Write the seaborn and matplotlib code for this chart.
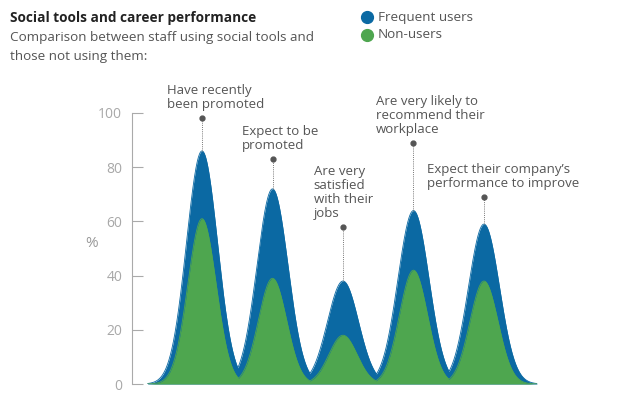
import numpy as np
import pandas as pd
import matplotlib.pyplot as plt
import seaborn as sns

sns.set_style("white")
plt.rcParams['font.family'] = ['Open Sans', 'DejaVu Sans']

# data
categories = ["Have recently\nbeen promoted",
              "Expect to be\npromoted",
              "Are very\nsatisfied\nwith their\njobs",
              "Are very likely to\nrecommend their\nworkplace",
              "Expect their company\u2019s\nperformance to improve"]
frequent = [86, 72, 38, 64, 59]
non_users = [61, 39, 18, 42, 38]
pin_level = [98, 83, 58, 89, 69]
yticks = [0, 20, 40, 60, 80, 100]

# layout (label offsets in points)
label_dx = [-25, -22, -21, -27, -41]
blue = "#0b69a3"
green = "#4ea64f"

x = np.linspace(-0.77, 4.75, 1500)


def peaks(vals, width):
    # one bell per category, valleys where neighbouring bells meet
    return np.max([v * np.exp(-(x - i) ** 2 / (2 * width ** 2)) for i, v in enumerate(vals)], axis=0)


df = pd.concat([
    pd.DataFrame({"x": x, "pct": peaks(frequent, 0.22), "group": "Frequent users"}),
    pd.DataFrame({"x": x, "pct": peaks(non_users, 0.20), "group": "Non-users"}),
])

fig = plt.figure(figsize=(6.3, 3.94), dpi=100)
ax = fig.add_axes([132 / 630, 1 - 384 / 394, 438 / 630, 271 / 394])

for name, col in [("Frequent users", blue), ("Non-users", green)]:
    d = df[df["group"] == name]
    ax.fill_between(d["x"], 0, d["pct"], color=col, linewidth=0)
sns.lineplot(data=df, x="x", y="pct", hue="group", palette=[blue, green],
             estimator=None, linewidth=0.6, legend=False, ax=ax)

for i, (lab, lvl) in enumerate(zip(categories, pin_level)):
    ax.plot([i, i], [frequent[i], lvl], color="#777777", linestyle=(0, (1, 1.2)),
            linewidth=0.7, clip_on=False)
    ax.plot(i, lvl, "o", color="#555555", markersize=3.5, clip_on=False)
    ax.annotate(lab, xy=(i, lvl), xytext=(label_dx[i], 5), textcoords="offset points",
                ha="left", va="bottom", fontsize=9.5, color="#555555",
                linespacing=1.1, annotation_clip=False)

ax.set_xlim(-0.993, 5.22)
ax.set_ylim(0, 100)
ax.set_yticks(yticks)
ax.set_xticks([])
ax.set_xlabel("")
ax.set_ylabel("%", rotation=0, fontsize=11, color="#999999")
ax.yaxis.set_label_coords(-0.092, 0.49)
ax.tick_params(axis="y", direction="in", length=8, width=0.8, color="#aaaaaa",
               labelcolor="#a8a8a8", labelsize=10, pad=7, left=True)
for s in ["top", "right", "bottom"]:
    ax.spines[s].set_visible(False)
ax.spines["left"].set_color("#aaaaaa")
ax.spines["left"].set_linewidth(0.8)

# header
fig.text(10 / 630, 1 - 22 / 394, "Social tools and career performance",
         fontsize=9.8, fontweight="bold", color="#222222", va="baseline")
fig.text(10 / 630, 1 - 41 / 394, "Comparison between staff using social tools and",
         fontsize=9.7, color="#555555", va="baseline")
fig.text(10 / 630, 1 - 60 / 394, "those not using them:",
         fontsize=9.7, color="#555555", va="baseline")

# legend
for k, (name, col) in enumerate([("Frequent users", blue), ("Non-users", green)]):
    yy = 1 - (17 + 18 * k) / 394
    fig.add_artist(plt.Line2D([367 / 630], [yy], marker="o", markersize=8.5,
                              color=col, linestyle="none", transform=fig.transFigure))
    fig.text(378 / 630, yy, name, fontsize=9.7, color="#555555", va="center")

fig.savefig("out.png", dpi=100)
